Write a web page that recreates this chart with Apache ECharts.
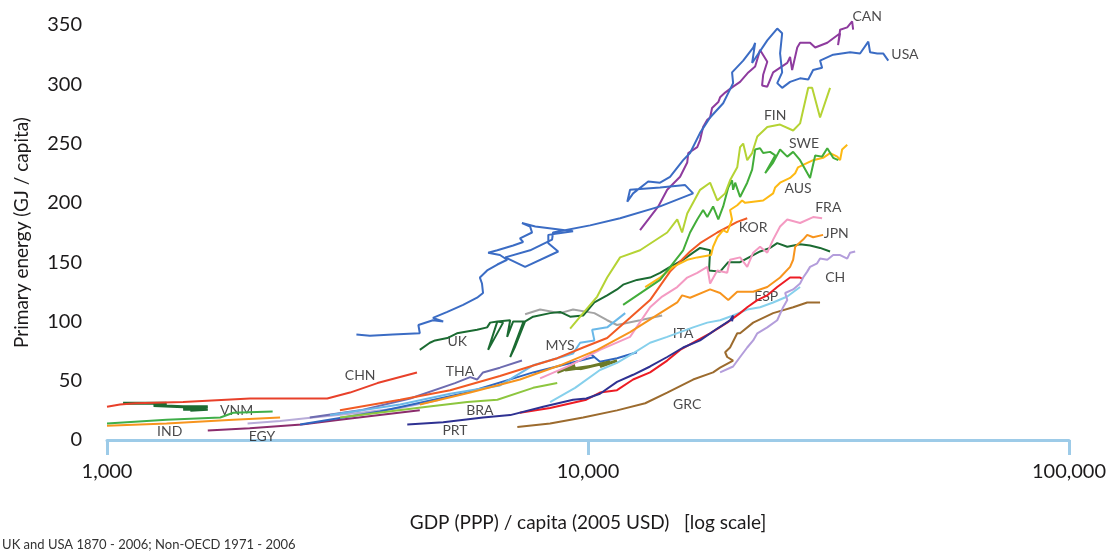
<!DOCTYPE html>
<html>
<head>
<meta charset="utf-8">
<title>Primary energy vs GDP per capita</title>
<script src="https://cdn.jsdelivr.net/npm/echarts@6.0.0/dist/echarts.min.js"></script>
<style>
  html, body { margin: 0; padding: 0; background: #fff; }
  #chart { width: 1115px; height: 554px; }
</style>
</head>
<body>
<div id="chart"></div>
<script>
// [GDP (PPP) per capita, 2005 USD ; primary energy, GJ per capita]
var usa = [[3300,89],[3520,88],[3930,89],[4470,90],[4440,97],[4760,101],[5000,100],[4760,103],[5100,108],[5500,114],[5880,120],[6050,124],[6020,132],[5960,137],[6170,143],[6480,148],[6790,152],[6560,156],[6200,158],[6480,160],[6990,164],[7330,167],[7220,170],[7650,175],[7580,180],[7290,183],[7770,180],[9310,176],[8270,173],[8270,166],[8670,159],[7400,146],[6730,154],[7580,160],[8420,169],[8460,175],[10100,181],[11660,187],[14120,197],[16540,208],[15920,215],[14120,213],[12230,211],[12070,201],[12410,208],[13340,218],[14120,217],[14810,222],[15770,236],[16300,242],[17100,259],[17940,272],[19100,284],[20030,301],[19930,310],[21020,320],[22050,331],[22260,335],[21940,318],[23590,337],[24740,347],[25330,343],[25080,326],[25330,310],[24740,301],[25330,297],[26310,302],[27600,305],[28700,304],[29380,312],[30670,314],[30370,320],[32340,325],[35070,327],[36780,326],[38260,336],[38590,327],[39940,326],[41080,326],[42100,320]];
var can = [[12830,177],[13460,188],[14000,197],[14610,211],[15540,222],[16080,234],[16160,242],[16870,247],[17100,253],[17350,264],[17700,270],[17940,272],[18110,280],[18660,285],[18820,289],[19280,293],[20030,298],[20710,302],[21540,310],[22260,315],[22790,329],[23590,319],[23130,308],[23010,299],[23590,298],[24260,310],[25960,318],[26310,323],[26570,312],[27230,331],[27600,335],[28950,335],[29670,331],[31440,335],[33430,343],[33100,333],[33430,346],[34590,348],[35410,353],[35580,346]];
var fin = [[9180,94],[9770,107],[10450,121],[10960,137],[11660,154],[12830,160],[14610,175],[15330,186],[15690,175],[16080,191],[17100,211],[17940,217],[18570,202],[19280,208],[19740,219],[20430,230],[20710,247],[21020,250],[21430,236],[21940,242],[22490,256],[23590,264],[25080,266],[26700,261],[27600,267],[28700,297],[29240,297],[30370,272],[31860,297]];
var swe = [[11830,114],[14120,135],[15770,160],[16300,175],[16870,186],[17350,194],[17700,188],[18200,197],[18660,186],[19100,197],[19570,213],[19930,219],[20030,211],[20230,217],[20710,205],[21430,217],[21940,228],[22260,245],[22790,246],[23130,242],[23910,243],[24500,240],[23350,225],[24260,234],[25080,245],[25960,239],[26700,243],[27600,236],[28950,221],[29670,240],[30670,239],[31440,246],[32340,238],[33140,236]];
var aus = [[13150,129],[14120,137],[15030,146],[16080,152],[16870,154],[18030,156],[18200,163],[18570,171],[19100,177],[19470,175],[19930,186],[19740,194],[20430,198],[20910,202],[21220,200],[22050,201],[23130,202],[24260,208],[24500,213],[25080,217],[26310,221],[26960,225],[27330,230],[28010,232],[29380,236],[30820,238],[31860,242],[32980,239],[33430,236],[33750,245],[34590,249]];
var kor = [[3050,25],[4070,34],[5170,42],[6560,54],[7580,62],[8630,69],[9770,78],[10960,86],[12230,103],[13460,118],[14810,142],[16300,159],[17100,166],[18570,175],[20430,184],[21430,187]];
var jpn = [[4470,30],[5690,40],[7220,51],[8750,63],[10450,76],[12230,91],[14120,107],[15330,116],[15690,122],[16300,120],[17940,127],[18820,124],[19570,118],[20430,125],[22050,125],[23590,129],[25080,137],[26310,146],[26700,152],[26960,163],[28010,169],[28560,173],[29380,171],[30820,173]];
var fra = [[7950,52],[9180,63],[10590,76],[12230,87],[13460,112],[14260,121],[15330,129],[16080,137],[16870,141],[17700,146],[17940,132],[18570,143],[19470,141],[19740,152],[20710,154],[21430,146],[22050,158],[22790,163],[23590,158],[24260,169],[25080,180],[25960,186],[27600,183],[29380,188],[30670,187]];
var uk = [[4470,76],[4690,82],[4810,84],[5100,86],[5340,90],[5880,93],[6170,95],[6260,99],[6480,100],[6660,99],[6200,76],[6480,100],[6890,101],[6790,87],[6990,100],[7400,100],[7040,78],[6890,70],[7330,99],[7690,104],[8340,107],[8750,108],[9180,104],[9770,105],[10310,116],[10960,122],[11490,127],[11830,131],[12640,135],[13460,137],[14120,141],[14810,146],[15770,152],[16540,158],[17100,162],[17940,160],[17850,143],[18820,142],[19570,150],[20710,150],[22050,156],[22790,159],[23910,162],[24740,166],[25960,163],[27600,165],[28950,164],[30370,162],[31860,159]];
var ch = [[18820,57],[20030,62],[20710,70],[21430,78],[22050,84],[22490,90],[23590,95],[24740,101],[25450,112],[25960,118],[25700,124],[26700,127],[27600,132],[28010,137],[28560,142],[28950,146],[29950,149],[30370,153],[31440,152],[32340,156],[33430,156],[34590,153],[35070,158],[35930,159]];
var esp = [[7220,23],[8340,27],[9920,34],[10590,40],[11490,42],[12410,51],[13460,57],[14610,67],[15540,76],[16870,84],[17940,90],[19470,99],[20710,107],[21430,112],[22490,118],[23590,122],[24740,129],[26310,137],[27600,137],[27870,136]];
var prt = [[4210,13],[5000,15],[6050,19],[6890,21],[8070,28],[9310,34],[9920,35],[10590,39],[11490,49],[12410,55],[13460,62],[14610,70],[15770,78],[17100,84],[18570,94],[19740,101],[20030,105],[19930,100]];
var grc = [[7130,11],[8340,14],[9770,19],[11490,25],[13150,31],[14610,40],[16540,51],[18200,57],[18820,61],[20030,67],[19470,70],[19280,74],[19740,78],[20430,90],[20710,90],[22050,99],[24260,107],[26700,112],[28560,116],[30370,116]];
var ita = [[8340,32],[9400,44],[10590,59],[11490,65],[12410,73],[13460,82],[14610,87],[15540,91],[16540,95],[17700,99],[18820,101],[20030,105],[21430,110],[22790,112],[24260,116],[25960,121],[27600,129]];
var mys = [[2910,21],[4070,30],[5170,39],[6560,46],[7690,63],[8630,69],[9310,73],[9630,82],[10310,84],[10200,93],[10960,95],[11950,107]];
var tha = [[2640,19],[3360,25],[4270,35],[5290,48],[5690,53],[5880,51],[6050,57],[6560,61],[7290,67]];
var bra = [[3050,19],[4630,28],[5610,32],[6480,34],[7690,44],[8630,48]];
var olive = [[8630,57],[9400,63],[8960,59],[10100,62],[9630,60],[11110,66],[10590,62],[11490,67]];
var grey = [[7400,106],[7950,110],[8750,107],[9310,110],[10310,107],[10960,101],[11490,97],[12830,101],[14260,105]];
var blue2 = [[2520,13],[3690,24],[5610,40],[7690,57],[10310,70],[10100,73],[10590,66],[11490,69],[12640,74]];
var chn = [[1000,28],[1064,30],[1146,31],[1440,32],[1983,35],[2870,35],[3200,40],[3650,48],[4410,57]];
var vnm = [[1080,31],[1330,31],[1250,29],[1440,28],[1620,28],[1440,26],[1620,26],[1490,25]];
var green2 = [[1000,14],[1330,17],[1720,19],[1830,23],[2210,24]];
var ind = [[1000,12],[1330,14],[1830,17],[2290,19]];
var egy = [[1620,8],[1980,10],[2540,13],[3050,17],[3690,21],[4470,25]];
var lav = [[1960,14],[2290,16],[2680,19],[3360,23],[4070,27],[4920,34]];

// country tags, placed in data coordinates
var labels = [[38070,357,'CAN'],[45600,325,'USA'],[24500,274,'FIN'],[28140,250,'SWE'],[27330,212,'AUS'],[31590,196,'FRA'],[22050,179,'KOR'],[32820,174,'JPN'],[32660,137,'CH'],[23470,121,'ESP'],[15770,90,'ITA'],[8750,80,'MYS'],[5350,83,'UK'],[5420,58,'THA'],[3360,54,'CHN'],[5960,25,'BRA'],[5290,8,'PRT'],[16080,30,'GRC'],[1860,25,'VNM'],[1350,7,'IND'],[2100,3,'EGY']];

var lines = [
  { name: 'lav', data: lav, color: '#b8acd9' },
  { name: 'EGY', data: egy, color: '#8b2c6c' },
  { name: 'IND', data: ind, color: '#f7941d' },
  { name: 'green2', data: green2, color: '#3fae49' },
  { name: 'VNM', data: vnm, color: '#1e6b32', width: 3 },
  { name: 'CHN', data: chn, color: '#e8402a' },
  { name: 'blue2', data: blue2, color: '#2f66c0' },
  { name: 'grey', data: grey, color: '#a3a3a3' },
  { name: 'olive', data: olive, color: '#6b7a28', width: 3 },
  { name: 'BRA', data: bra, color: '#8dc63f' },
  { name: 'THA', data: tha, color: '#6d6bb0' },
  { name: 'MYS', data: mys, color: '#6ab8e8' },
  { name: 'ITA', data: ita, color: '#86d0ec' },
  { name: 'GRC', data: grc, color: '#9c6b2e' },
  { name: 'ESP', data: esp, color: '#ed1c24' },
  { name: 'PRT', data: prt, color: '#2e3192' },
  { name: 'CH', data: ch, color: '#b39ddb' },
  { name: 'UK', data: uk, color: '#1b6b32' },
  { name: 'FRA', data: fra, color: '#f49ac2' },
  { name: 'JPN', data: jpn, color: '#f7941d' },
  { name: 'KOR', data: kor, color: '#f15a24' },
  { name: 'AUS', data: aus, color: '#fdb913' },
  { name: 'SWE', data: swe, color: '#42ad3a' },
  { name: 'FIN', data: fin, color: '#b5d334' },
  { name: 'CAN', data: can, color: '#8e3b9e' },
  { name: 'USA', data: usa, color: '#3b6cc4' }
];

var txt = '#1c1a1b';
var font = 'Lato, "Open Sans", sans-serif';

var series = lines.map(function (l) {
  return {
    type: 'line',
    name: l.name,
    data: l.data,
    symbol: 'none',
    clip: false,
    silent: true,
    lineStyle: { color: l.color, width: l.width || 2 },
    itemStyle: { color: l.color }
  };
});

series.push({
  type: 'scatter',
  data: labels,
  symbolSize: 0,
  clip: false,
  silent: true,
  label: {
    show: true,
    position: 'inside',
    formatter: function (p) { return p.data[2]; },
    color: txt,
    fontSize: 14,
    fontFamily: font
  }
});

var chart = echarts.init(document.getElementById('chart'));
chart.setOption({
  animation: false,
  backgroundColor: '#fff',
  textStyle: { fontFamily: font },
  grid: { left: 107, right: 46, top: 25, bottom: 114 },
  xAxis: {
    type: 'log',
    logBase: 10,
    min: 1000,
    max: 100000,
    name: 'GDP (PPP) / capita (2005 USD)   [log scale]',
    nameLocation: 'middle',
    nameGap: 73,
    nameTextStyle: { color: txt, fontSize: 19, fontFamily: font },
    axisLine: { lineStyle: { color: '#9dcbe8', width: 3 } },
    axisTick: { show: true, length: 15, lineStyle: { color: '#9dcbe8', width: 3 } },
    minorTick: { show: false },
    splitLine: { show: false },
    axisLabel: {
      color: txt,
      fontSize: 20,
      margin: 22,
      showMinLabel: true,
      showMaxLabel: true,
      formatter: function (v) { return Math.round(v).toLocaleString('en-US'); }
    }
  },
  yAxis: {
    type: 'value',
    min: 0,
    max: 350,
    interval: 50,
    name: 'Primary energy (GJ / capita)',
    nameLocation: 'middle',
    nameGap: 76,
    nameTextStyle: { color: txt, fontSize: 19, fontFamily: font },
    axisLine: { show: false },
    axisTick: { show: false },
    splitLine: { show: false },
    axisLabel: { color: txt, fontSize: 20, margin: 25 }
  },
  graphic: [{
    type: 'text',
    left: -4,
    top: 538,
    style: {
      text: '\u2019 UK and USA 1870 - 2006; Non-OECD 1971 - 2006',
      fill: '#333',
      fontSize: 13,
      fontFamily: font
    }
  }],
  series: series
});
</script>
</body>
</html>
